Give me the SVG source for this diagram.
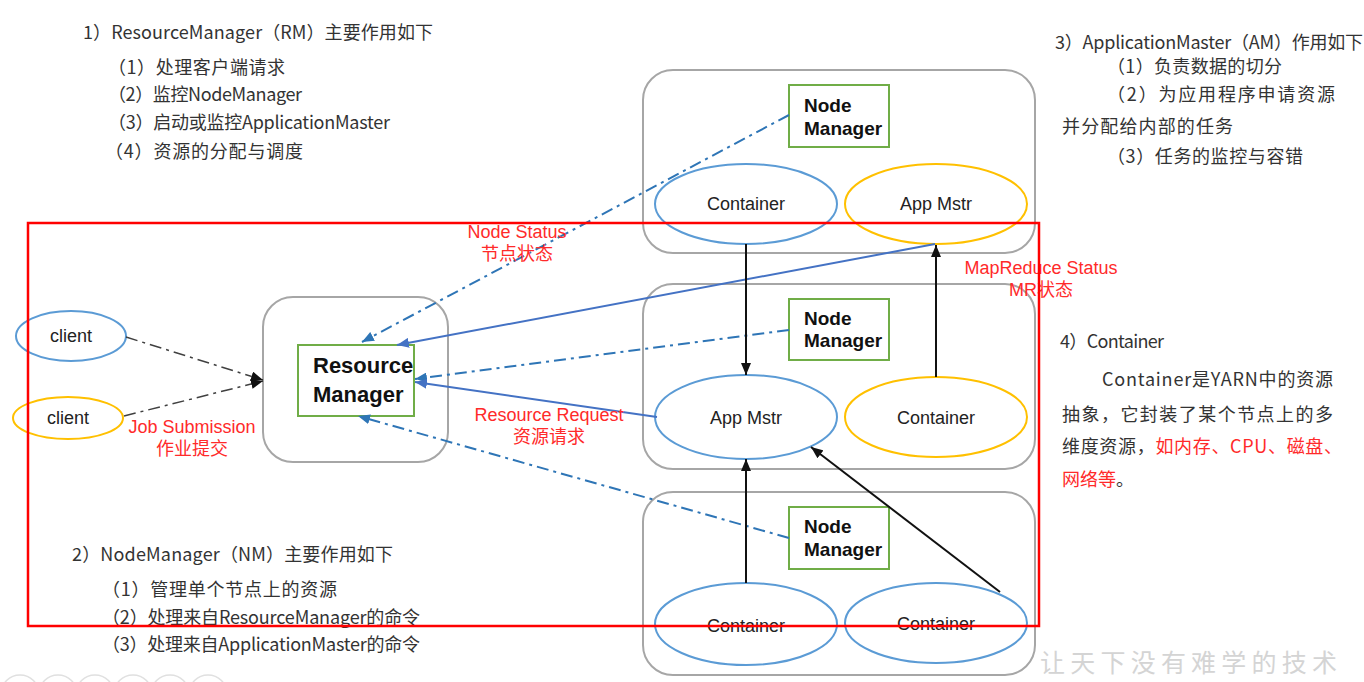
<svg xmlns="http://www.w3.org/2000/svg" width="1364" height="682" viewBox="0 0 1364 682">
<style>
.bg{fill:#ffffff}
.panel{fill:#ffffff;stroke:#a6a6a6;stroke-width:2}
.nm{fill:#ffffff;stroke:#70ad47;stroke-width:2}
.eb{fill:#ffffff;stroke:#5b9bd5;stroke-width:2}
.ey{fill:#ffffff;stroke:#ffc000;stroke-width:2}
.bold{font-family:"Liberation Sans",Arial,sans-serif;font-weight:bold;font-size:19px;fill:#111}
.rmt{font-family:"Liberation Sans",Arial,sans-serif;font-weight:bold;font-size:22px;fill:#111}
.lbl{font-family:"Liberation Sans",Arial,sans-serif;font-size:18px;fill:#222;text-anchor:middle}
.red{font-family:"Liberation Sans","Noto Sans CJK SC",sans-serif;font-size:18px;fill:#ff2a2a;text-anchor:middle}
.cn{font-family:"Noto Sans CJK SC","Noto Sans",sans-serif;font-size:18px;fill:#333}
.cnr{fill:#ff2a2a}
.dd{fill:none;stroke:#2e75b6;stroke-width:2;stroke-dasharray:12 5 3 5}
.dk{fill:none;stroke:#404040;stroke-width:1.5;stroke-dasharray:12 5 3 5}
.sb{fill:none;stroke:#4472c4;stroke-width:2}
.sk{fill:none;stroke:#111;stroke-width:2}
</style>
<defs>
<marker id="ab" viewBox="0 0 12 10" refX="12" refY="5" markerWidth="12" markerHeight="10" markerUnits="userSpaceOnUse" orient="auto"><path d="M0,0 L12,5 L0,10 z" fill="#2e75b6"/></marker>
<marker id="as" viewBox="0 0 12 10" refX="12" refY="5" markerWidth="12" markerHeight="10" markerUnits="userSpaceOnUse" orient="auto"><path d="M0,0 L12,5 L0,10 z" fill="#4472c4"/></marker>
<marker id="ak" viewBox="0 0 12 10" refX="12" refY="5" markerWidth="12" markerHeight="10" markerUnits="userSpaceOnUse" orient="auto"><path d="M0,0 L12,5 L0,10 z" fill="#111"/></marker>
</defs>
<rect class="bg" x="0" y="0" width="1364" height="682"/>

<g id="notes-rm" class="cn">
<text x="83" y="39" textLength="350" lengthAdjust="spacing">1）ResourceManager（RM）主要作用如下</text>
<text x="108" y="74" textLength="177" lengthAdjust="spacing">（1）处理客户端请求</text>
<text x="108" y="101" textLength="194" lengthAdjust="spacing">（2）监控NodeManager</text>
<text x="108" y="129" textLength="282" lengthAdjust="spacing">（3）启动或监控ApplicationMaster</text>
<text x="105" y="158" textLength="198" lengthAdjust="spacing">（4）资源的分配与调度</text>
</g>
<g id="notes-am" class="cn">
<text x="1055" y="49" textLength="308" lengthAdjust="spacing">3）ApplicationMaster（AM）作用如下</text>
<text x="1107" y="73" textLength="175" lengthAdjust="spacing">（1）负责数据的切分</text>
<text x="1107" y="101" textLength="228" lengthAdjust="spacing">（2）为应用程序申请资源</text>
<text x="1062" y="133" textLength="171" lengthAdjust="spacing">并分配给内部的任务</text>
<text x="1107" y="163" textLength="196" lengthAdjust="spacing">（3）任务的监控与容错</text>
</g>
<g id="notes-container" class="cn">
<text x="1060" y="348" textLength="104" lengthAdjust="spacing">4）Container</text>
<text x="1102" y="386" textLength="231" lengthAdjust="spacing">Container是YARN中的资源</text>
<text x="1062" y="421" textLength="271" lengthAdjust="spacing">抽象，它封装了某个节点上的多</text>
<text x="1062" y="453" textLength="280" lengthAdjust="spacing">维度资源，<tspan class="cnr">如内存、CPU、磁盘、</tspan></text>
<text x="1062" y="486"><tspan class="cnr">网络等</tspan>。</text>
</g>
<g id="notes-nm" class="cn">
<text x="72" y="561" textLength="321" lengthAdjust="spacing">2）NodeManager（NM）主要作用如下</text>
<text x="102" y="596" textLength="235" lengthAdjust="spacing">（1）管理单个节点上的资源</text>
<text x="102" y="624" textLength="318" lengthAdjust="spacing">（2）处理来自ResourceManager的命令</text>
<text x="102" y="651" textLength="318" lengthAdjust="spacing">（3）处理来自ApplicationMaster的命令</text>
</g>

<g id="node1">
<rect class="panel" x="643" y="70" width="392" height="183" rx="30"/>
</g>
<g id="node2">
<rect class="panel" x="643" y="284" width="392" height="185" rx="30"/>
</g>
<g id="node3">
<rect class="panel" x="643" y="492" width="392" height="183" rx="30"/>
</g>
<g id="rm-panel">
<rect class="panel" x="263" y="297" width="185" height="165" rx="30"/>
</g>

<g id="nm1"><rect class="nm" x="789" y="85" width="100" height="62"/><text class="bold" x="804" y="112">Node</text><text class="bold" x="804" y="135">Manager</text></g>
<g id="nm2"><rect class="nm" x="789" y="299" width="100" height="61"/><text class="bold" x="804" y="325">Node</text><text class="bold" x="804" y="347">Manager</text></g>
<g id="nm3"><rect class="nm" x="789" y="507" width="100" height="62"/><text class="bold" x="804" y="533">Node</text><text class="bold" x="804" y="556">Manager</text></g>

<g id="rm"><rect class="nm" x="298" y="345" width="116" height="71"/><text class="rmt" x="313" y="373">Resource</text><text class="rmt" x="313" y="402">Manager</text></g>

<g id="c1"><ellipse class="eb" cx="746" cy="204" rx="91" ry="40"/><text class="lbl" x="746" y="210">Container</text></g>
<g id="am1"><ellipse class="ey" cx="936" cy="204" rx="91" ry="40"/><text class="lbl" x="936" y="210">App Mstr</text></g>
<g id="am2"><ellipse class="eb" cx="746" cy="417" rx="91" ry="42"/><text class="lbl" x="746" y="424">App Mstr</text></g>
<g id="c2"><ellipse class="ey" cx="936" cy="417" rx="91" ry="40"/><text class="lbl" x="936" y="424">Container</text></g>
<g id="c3"><ellipse class="eb" cx="746" cy="624" rx="91" ry="41"/><text class="lbl" x="746" y="632">Container</text></g>
<g id="c4"><ellipse class="eb" cx="936" cy="623" rx="91" ry="40"/><text class="lbl" x="936" y="630">Container</text></g>

<g id="client1"><ellipse class="eb" cx="71" cy="336" rx="55" ry="25"/><text class="lbl" x="71" y="342">client</text></g>
<g id="client2"><ellipse class="ey" cx="68" cy="418" rx="55" ry="21"/><text class="lbl" x="68" y="424">client</text></g>

<g id="connectors">
<line class="dk" x1="126" y1="337" x2="263" y2="380" marker-end="url(#ak)"/>
<line class="dk" x1="124" y1="416" x2="263" y2="381" marker-end="url(#ak)"/>
<line class="dd" x1="789" y1="115" x2="362" y2="342" marker-end="url(#ab)"/>
<line class="dd" x1="789" y1="330" x2="415" y2="379" marker-end="url(#ab)"/>
<line class="dd" x1="789" y1="538" x2="358" y2="416" marker-end="url(#ab)"/>
<line class="sb" x1="935" y1="244" x2="397" y2="345" marker-end="url(#as)"/>
<line class="sb" x1="657" y1="417" x2="415" y2="382" marker-end="url(#as)"/>
<line class="sk" x1="746" y1="244" x2="746" y2="375" marker-end="url(#ak)"/>
<line class="sk" x1="936" y1="377" x2="936" y2="245" marker-end="url(#ak)"/>
<line class="sk" x1="746" y1="583" x2="746" y2="459" marker-end="url(#ak)"/>
<line class="sk" x1="1000" y1="592" x2="811" y2="447" marker-end="url(#ak)"/>
</g>

<g id="labels">
<text class="red" x="517" y="238">Node Status</text>
<text class="red" x="517" y="260">节点状态</text>
<text class="red" x="549" y="421">Resource Request</text>
<text class="red" x="549" y="443">资源请求</text>
<text class="red" x="192" y="433">Job Submission</text>
<text class="red" x="192" y="455">作业提交</text>
<text class="red" x="1041" y="274">MapReduce Status</text>
<text class="red" x="1041" y="296">MR状态</text>
</g>

<rect x="28" y="223" width="1011" height="403" fill="none" stroke="#ff0000" stroke-width="2.5"/>

<g id="watermark">
<text x="1040" y="672" font-family="'Noto Sans CJK SC',sans-serif" font-size="25" fill="#d4d4d4" textLength="297" lengthAdjust="spacing">让天下没有难学的技术</text>
<g fill="none" stroke="#e0e0e0" stroke-width="1.5">
<circle cx="20" cy="694" r="19"/><circle cx="58" cy="694" r="19"/><circle cx="95" cy="694" r="19"/><circle cx="133" cy="694" r="19"/><circle cx="170" cy="694" r="19"/><circle cx="208" cy="694" r="19"/>
</g>
</g>
</svg>
